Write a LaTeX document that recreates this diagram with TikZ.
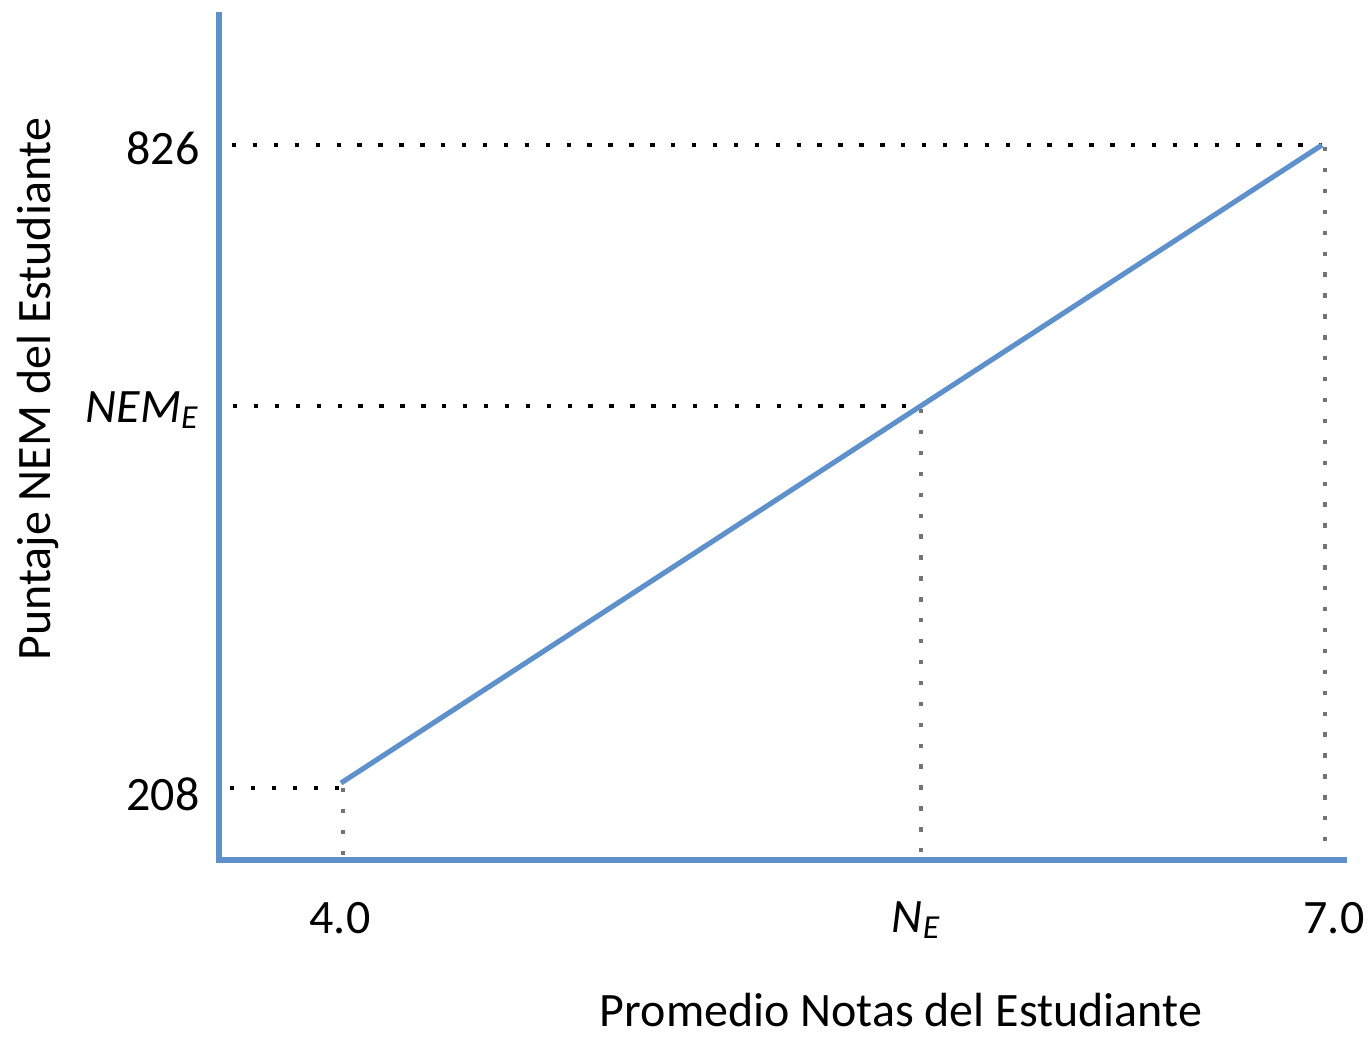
\documentclass[tikz,border=0pt]{standalone}
\usepackage{fontspec}
\setmainfont{Carlito}
\definecolor{axisblue}{RGB}{94,145,203}
\definecolor{dotgray}{RGB}{115,115,115}
\begin{document}
\begin{tikzpicture}[x=0.02cm,y=-0.02cm,
  axisline/.style={draw=axisblue,line width=2.9pt},
  blackdots/.style={draw=black,line width=2.5pt,dash pattern=on 2.5pt off 9.4pt},
  graydots/.style={draw=dotgray,line width=2.5pt,dash pattern=on 2.5pt off 9.4pt},
  lbl/.style={font=\fontsize{27.3}{31}\selectfont,inner sep=0pt}]
\useasboundingbox (0,0) rectangle (1372,1036);
% coordinates
\coordinate (ytop) at (219,12);
\coordinate (origin) at (219,860);
\coordinate (xend) at (1347,860);
\coordinate (pA) at (341,783);
\coordinate (pB) at (1322,145);
\coordinate (pM) at (920,406);
% dotted guides
\draw[blackdots] (232,145) -- (pB);
\draw[blackdots] (233,406) -- (pM);
\draw[blackdots] (230,788) -- (341,788);
\draw[graydots] (1325,147) -- (1325,860);
\draw[graydots] (921,409) -- (921,860);
\draw[graydots] (343,788) -- (343,860);
% axes and line
\draw[axisline] (ytop) -- (origin) -- (xend);
\draw[axisline] (pA) -- (pB);
% labels
\node[lbl] (l826) at (163,148) {826};
\node[lbl] (l208) at (163,794) {208};
\node[lbl,font=\fontsize{27.3}{31}\selectfont\itshape] (lnem) at (142,410) {NEM\textsubscript{E}};
\node[lbl] (l40) at (340,918) {4.0};
\node[lbl,font=\fontsize{27.3}{31}\selectfont\itshape] (lne) at (916,920) {N\textsubscript{E}};
\node[lbl] (l70) at (1334,918) {7.0};
\node[lbl] (xlab) at (901,1010) {Promedio Notas del Estudiante};
\node[lbl,rotate=90] (ylab) at (38,389) {Puntaje NEM del Estudiante};
\end{tikzpicture}
\end{document}
